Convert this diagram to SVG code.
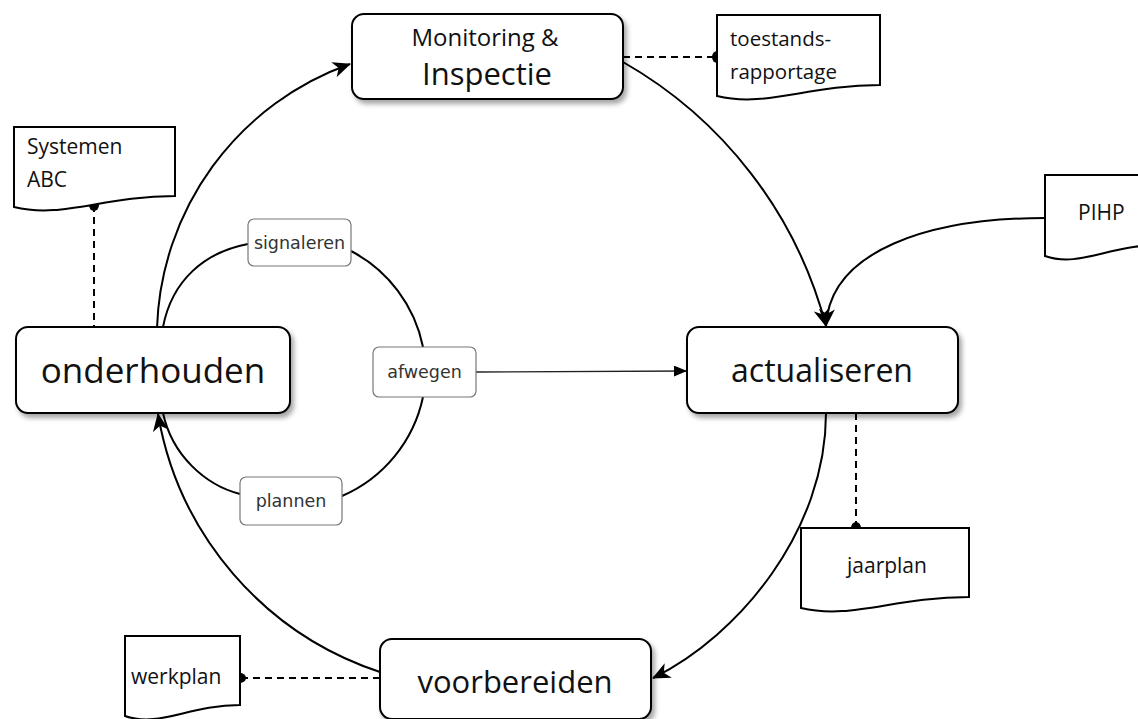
<svg xmlns="http://www.w3.org/2000/svg" width="1138" height="719" viewBox="0 0 1138 719">
<defs>
<style>
.box{fill:#fff;stroke:#000;stroke-width:2;filter:url(#sh)}
.lbl{fill:#fff;stroke:#777;stroke-width:1.2}
.doc{fill:#fff;stroke:#000;stroke-width:2}
.t{font-family:"Open Sans","Noto Sans","DejaVu Sans",sans-serif;fill:#111}
.s{font-family:"DejaVu Sans","Noto Sans",sans-serif;font-size:17.5px;fill:#333;text-anchor:middle}
.c{fill:none;stroke:#000;stroke-width:2}
.d{fill:none;stroke:#000;stroke-width:2;stroke-dasharray:7,5}
.dot{fill:#000}
</style>
<filter id="sh" x="-10%" y="-10%" width="130%" height="140%">
<feDropShadow dx="3" dy="4" stdDeviation="2.5" flood-color="#000" flood-opacity="0.35"/>
</filter>
<marker id="ar" markerUnits="userSpaceOnUse" markerWidth="18" markerHeight="16" refX="17" refY="8" orient="auto">
<path d="M0,0 L18,8 L0,16 L5,8 Z" fill="#000"/>
</marker>
<marker id="tri" markerUnits="userSpaceOnUse" markerWidth="13" markerHeight="11" refX="13" refY="5.5" orient="auto">
<path d="M0,0 L13,5.5 L0,11 Z" fill="#000"/>
</marker>
</defs>
<rect width="1138" height="719" fill="#fff"/>

<g id="connectors">
<path class="c" d="M157,328 A290,290 0 0 1 350,64" marker-end="url(#ar)"/>
<path class="c" d="M623,62 A430,430 0 0 1 826,326" marker-end="url(#ar)"/>
<path class="c" d="M1045,218 C930,218 830,250 826,326" marker-end="url(#ar)"/>
<path class="c" d="M826,413 C826,530 740,635 653,678" marker-end="url(#ar)"/>
<path class="c" d="M380,672 A330,330 0 0 1 158,414" marker-end="url(#ar)"/>
<path class="c" d="M163,327 C172,280 205,252 248,244"/>
<path class="c" d="M351,251 A139,139 0 0 1 423,347"/>
<path class="c" d="M423,397 A139,139 0 0 1 342,496"/>
<path class="c" d="M163,413 C172,455 205,485 240,494"/>
<path fill="none" stroke="#222" stroke-width="1.3" d="M476,372 L687,371" marker-end="url(#tri)"/>
<path class="d" d="M623,57 H717"/>
<path class="d" d="M94,205 V327"/>
<path class="d" d="M856,413 V528"/>
<path class="d" d="M380,678 H240"/>
<ellipse class="dot" cx="717" cy="57" rx="5" ry="6"/>
<ellipse class="dot" cx="94" cy="205" rx="5" ry="6"/>
<ellipse class="dot" cx="856" cy="528" rx="5" ry="6"/>
<ellipse class="dot" cx="240" cy="678" rx="6" ry="5"/>
</g>

<g id="monitoring">
<rect class="box" x="352" y="14" width="271" height="85" rx="12"/>
<text class="t" x="485" y="46" font-size="24" text-anchor="middle">Monitoring &amp;</text>
<text class="t" x="487" y="85" font-size="31" text-anchor="middle">Inspectie</text>
</g>
<g id="toestandsrapportage">
<path class="doc" d="M717,15 H880 V85 C806.7,85 765.9,108 717,96 Z"/>
<text class="t" x="730" y="46" font-size="20.5">toestands-</text>
<text class="t" x="730" y="79" font-size="20.5">rapportage</text>
</g>
<g id="systemen">
<path class="doc" d="M14,127 H175 V196 C102.5,196 62.3,219 14,207 Z"/>
<text class="t" x="27" y="154" font-size="21">Systemen</text>
<text class="t" x="27" y="187" font-size="21">ABC</text>
</g>
<g id="pihp">
<path class="doc" d="M1045,175 H1160 V245 C1108,245 1079.5,268 1045,256 Z"/>
<text class="t" x="1078" y="220" font-size="21">PIHP</text>
</g>
<g id="onderhouden">
<rect class="box" x="16" y="327" width="274" height="86" rx="12"/>
<text class="t" x="153" y="383" font-size="35" text-anchor="middle">onderhouden</text>
</g>
<g id="actualiseren">
<rect class="box" x="687" y="327" width="271" height="86" rx="12"/>
<text class="t" x="822" y="382" font-size="32" text-anchor="middle">actualiseren</text>
</g>
<g id="jaarplan">
<path class="doc" d="M801,528 H969 V597 C893.4,597 851.4,620 801,608 Z"/>
<text class="t" x="847" y="573" font-size="21">jaarplan</text>
</g>
<g id="voorbereiden">
<rect class="box" x="380" y="639" width="271" height="80" rx="12"/>
<text class="t" x="515" y="693" font-size="31" text-anchor="middle">voorbereiden</text>
</g>
<g id="werkplan">
<path class="doc" d="M125,636 H240 V705 C188.3,705 159.5,728 125,716 Z"/>
<text class="t" x="131" y="684" font-size="21">werkplan</text>
</g>
<g id="signaleren">
<rect class="lbl" x="248" y="219" width="103" height="47" rx="6"/>
<text class="s" x="299.5" y="249">signaleren</text>
</g>
<g id="afwegen">
<rect class="lbl" x="373" y="347" width="103" height="50" rx="6"/>
<text class="s" x="424.5" y="378">afwegen</text>
</g>
<g id="plannen">
<rect class="lbl" x="240" y="477" width="102" height="48" rx="6"/>
<text class="s" x="291" y="507">plannen</text>
</g>
</svg>
